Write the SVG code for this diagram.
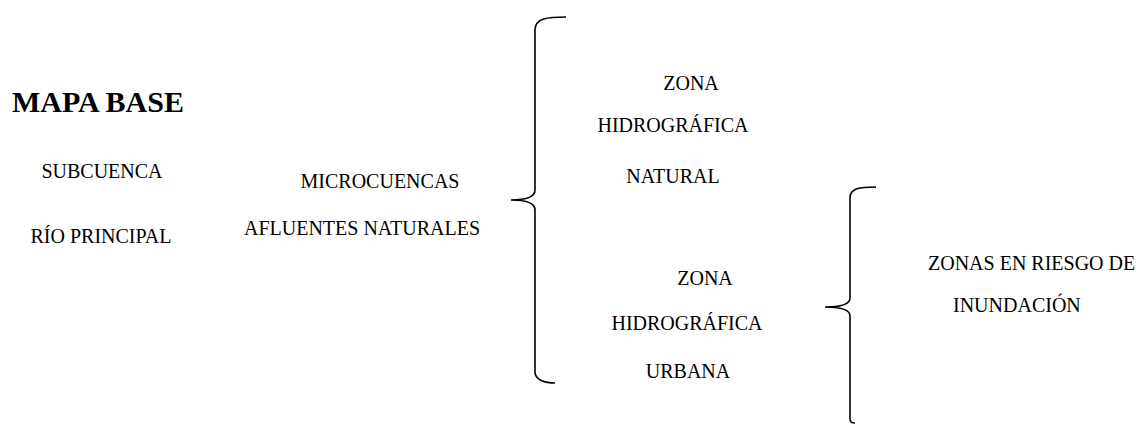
<svg xmlns="http://www.w3.org/2000/svg" width="1144" height="424" viewBox="0 0 1144 424">
<style>
text{font-family:'Liberation Serif','Times New Roman',serif;font-size:20px;fill:#000}
.title{font-size:30px;font-weight:bold}
.brace{fill:none;stroke:#000;stroke-width:1.6}
</style>
<rect width="1144" height="424" fill="#fff"/>
<g id="mapa-base"><text class="title" x="12" y="112">MAPA BASE</text></g>
<g id="subcuenca"><text x="102" y="178" text-anchor="middle">SUBCUENCA</text></g>
<g id="rio-principal"><text x="101" y="243" text-anchor="middle">RÍO PRINCIPAL</text></g>
<g id="microcuencas"><text x="380" y="188" text-anchor="middle">MICROCUENCAS</text></g>
<g id="afluentes"><text x="362" y="235" text-anchor="middle">AFLUENTES NATURALES</text></g>
<g id="zona-natural">
<text x="691" y="90" text-anchor="middle">ZONA</text>
<text x="673" y="132" text-anchor="middle">HIDROGRÁFICA</text>
<text x="673" y="183" text-anchor="middle">NATURAL</text>
</g>
<g id="zona-urbana">
<text x="705" y="285" text-anchor="middle">ZONA</text>
<text x="687" y="330" text-anchor="middle">HIDROGRÁFICA</text>
<text x="688" y="378" text-anchor="middle">URBANA</text>
</g>
<g id="riesgo">
<text x="928" y="270">ZONAS EN RIESGO DE</text>
<text x="953" y="312">INUNDACIÓN</text>
</g>
<g id="connectors">
<path class="brace" d="M566,17 C548,17 535,18 535,30 L535,190 C535,197 525,200 511,200 C525,200 535,203 535,210 L535,372 C535,380 545,383 555,383"/>
<path class="brace" d="M876,187 C860,187 850,188 850,198 L850,298 C850,304 840,307 825,307 C840,307 850,310 850,316 L850,418 C850,422 851,423 855,423"/>
</g>
</svg>
